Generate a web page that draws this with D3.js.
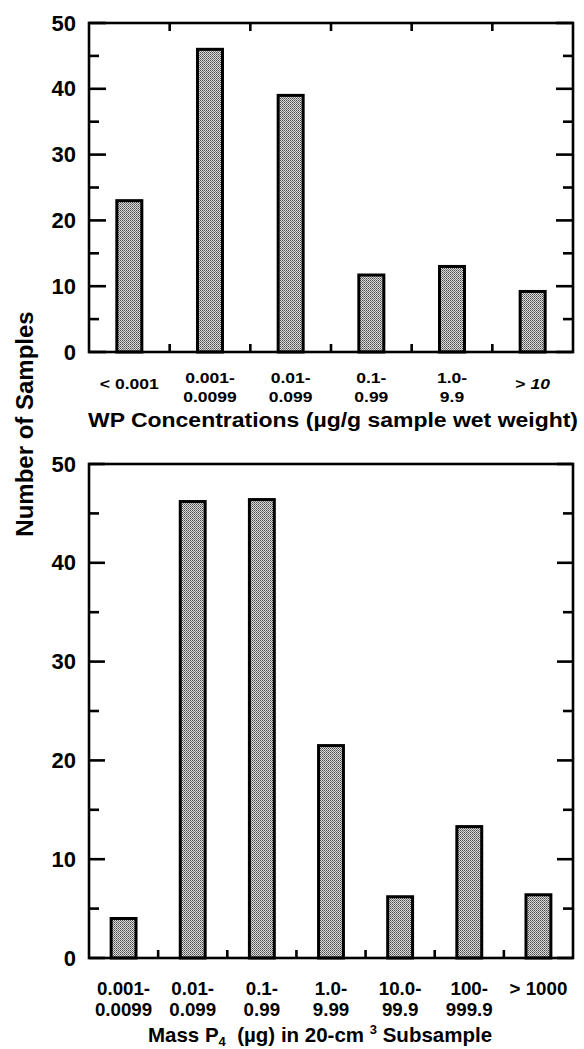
<!DOCTYPE html>
<html><head><meta charset="utf-8">
<script src="https://cdn.jsdelivr.net/npm/d3@7"></script>
<style>
html,body{margin:0;padding:0;background:#fff;}
svg{display:block;font-family:"Liberation Sans",Arial,Helvetica,sans-serif;font-weight:bold;}
</style></head>
<body>
<svg id="chart" width="584" height="1049"></svg>
<script>
// ---- data ----
const topCategories = [["< 0.001"],["0.001-","0.0099"],["0.01-","0.099"],["0.1-","0.99"],["1.0-","9.9"],["> 10"]];
const topValues = [23, 46, 39, 11.7, 13, 9.2];
const bottomCategories = [["0.001-","0.0099"],["0.01-","0.099"],["0.1-","0.99"],["1.0-","9.99"],["10.0-","99.9"],["100-","999.9"],["> 1000"]];
const bottomValues = [4, 46.2, 46.4, 21.5, 6.2, 13.3, 6.4];
const yTicks = [0, 10, 20, 30, 40, 50];
const yMinorTicks = [5, 15, 25, 35, 45];
const yTitle = "Number of Samples";
const topTitle = "WP Concentrations (µg/g sample wet weight)";

const svg = d3.select("#chart");
const defs = svg.append("defs");
const pat = defs.append("pattern").attr("id","stipple").attr("patternUnits","userSpaceOnUse")
  .attr("width",2).attr("height",2);
pat.append("rect").attr("width",2).attr("height",2).attr("fill","#dcdcdc");
pat.append("rect").attr("x",0).attr("y",0).attr("width",1).attr("height",1).attr("fill","#4a4a4a");
pat.append("rect").attr("x",1).attr("y",1).attr("width",1).attr("height",1).attr("fill","#777");

function panel(cfg){
  const {cats, vals, x0, x1, y0, y50, pad, labelSize, labelStretch, line1, line2, single, topTicks} = cfg;
  const x = d3.scaleBand().domain(d3.range(cats.length)).range([x0,x1])
    .paddingInner(pad).paddingOuter(pad/2);
  const y = d3.scaleLinear().domain([0,50]).range([y0,y50]);
  const g = svg.append("g");
  g.selectAll("rect.bar").data(vals).join("rect").attr("class","bar")
    .attr("x",(d,i)=>x(i)).attr("width",x.bandwidth())
    .attr("y",d=>y(d)).attr("height",d=>y(0)-y(d))
    .attr("fill","url(#stipple)").attr("stroke","#000").attr("stroke-width",3);
  g.append("rect").attr("x",x0).attr("y",y50).attr("width",x1-x0).attr("height",y0-y50)
    .attr("fill","none").attr("stroke","#000").attr("stroke-width",2.6);
  const major = cfg.majorLen, minor = cfg.minorLen;
  yTicks.forEach(t=>{
    g.append("line").attr("x1",x0).attr("x2",x0+major).attr("y1",y(t)).attr("y2",y(t)).attr("stroke","#000").attr("stroke-width",2.6);
    g.append("line").attr("x1",x1).attr("x2",x1-major).attr("y1",y(t)).attr("y2",y(t)).attr("stroke","#000").attr("stroke-width",2.6);
    g.append("text").attr("x",x0-13).attr("y",y(t)).attr("text-anchor","end")
      .attr("dominant-baseline","central").attr("font-size",22).text(t);
  });
  yMinorTicks.forEach(t=>{
    g.append("line").attr("x1",x0).attr("x2",x0+minor).attr("y1",y(t)).attr("y2",y(t)).attr("stroke","#000").attr("stroke-width",2.6);
    g.append("line").attr("x1",x1).attr("x2",x1-minor).attr("y1",y(t)).attr("y2",y(t)).attr("stroke","#000").attr("stroke-width",2.6);
  });
  const step = x.step();
  for(let i=1;i<cats.length;i++){
    const xx = x0 + i*step;
    if(topTicks) g.append("line").attr("x1",xx).attr("x2",xx).attr("y1",y50).attr("y2",y50+8).attr("stroke","#000").attr("stroke-width",2.6);
    g.append("line").attr("x1",xx).attr("x2",xx).attr("y1",y0).attr("y2",y0-8).attr("stroke","#000").attr("stroke-width",2.6);
  }
  cats.forEach((lab,i)=>{
    const cx = x(i)+x.bandwidth()/2;
    const lines = lab.length===1 ? [[lab[0], single]] : [[lab[0], line1],[lab[1], line2]];
    lines.forEach(([s,yy])=>{
      const t = g.append("text").attr("x",cx).attr("y",yy).attr("text-anchor","middle")
        .attr("font-size",labelSize);
      if(cfg.italicGT && s.startsWith("> ")){
        t.append("tspan").text("> ");
        t.append("tspan").attr("font-style","italic").text(s.slice(2));
      } else t.text(s);
      const w = t.node().getComputedTextLength();
      t.attr("textLength", w*labelStretch).attr("lengthAdjust","spacingAndGlyphs");
    });
  });
  return {x,y};
}

panel({cats:topCategories, vals:topValues, x0:89, x1:573, y0:352, y50:23, pad:0.69,
  labelSize:14, labelStretch:1.25, line1:383, line2:402, single:389, majorLen:17, minorLen:10,
  topTicks:true, italicGT:true});
panel({cats:bottomCategories, vals:bottomValues, x0:89, x1:573, y0:958, y50:464, pad:0.64,
  labelSize:17.5, labelStretch:1.07, line1:995, line2:1016, single:995, majorLen:16, minorLen:10,
  topTicks:false});

const t1 = svg.append("text").attr("x",333).attr("y",427).attr("text-anchor","middle")
  .attr("font-size",20).text(topTitle);
t1.attr("textLength",490).attr("lengthAdjust","spacingAndGlyphs");

const bt = svg.append("text").attr("x",320).attr("y",1042).attr("text-anchor","middle").attr("font-size",20.5);
bt.append("tspan").text("Mass P");
bt.append("tspan").attr("font-size",13).attr("dy",4).text("4");
bt.append("tspan").attr("dy",-4).text("\u00a0 (µg) in 20-cm ");
bt.append("tspan").attr("font-size",13).attr("dy",-8).text("3");
bt.append("tspan").attr("dy",8).text(" Subsample");

svg.append("text").attr("transform","translate(33,424) rotate(-90)").attr("text-anchor","middle")
  .attr("font-size",24).text(yTitle);
</script>
</body></html>
